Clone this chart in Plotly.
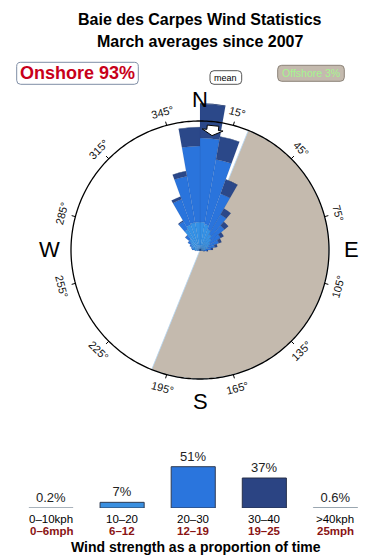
import numpy as np
import plotly.graph_objects as go

W, H = 390, 560
FONT = "Liberation Sans, Arial, Helvetica, sans-serif"

# ---------------- data ----------------
title_line1 = "Baie des Carpes Wind Statistics"
title_line2 = "March averages since 2007"

dir_bins = list(range(5, 360, 10))  # 36 direction bins (deg, centre)

# stacked rose segments per speed class (radial units, ring = 100)
rose_0_10 = [1.2, 0.8, 0.5, 0.3, 0.3, 0.2, 0.2, 0.2, 0.2, 0.1, 0.1, 0.0,
             0.0, 0.0, 0.0, 0.0, 0.0, 0.0, 0.0, 0.0, 0.0, 0.0, 0.0, 0.0,
             0.1, 0.1, 0.2, 0.2, 0.2, 0.2, 0.2, 0.3, 0.4, 0.5, 0.6, 1.0]
rose_10_20 = [20.5, 19.4, 16.6, 13.7, 11.3, 9.1, 7.6, 6.0, 4.5, 3.0, 1.8, 1.0,
              0.6, 0.4, 0.3, 0.3, 0.3, 0.3, 0.3, 0.3, 0.4, 0.5, 0.6, 0.8,
              1.0, 2.0, 3.4, 5.3, 5.8, 6.8, 8.3, 10.6, 18.2, 20.4, 21.1, 20.7]
rose_20_30 = [65.1, 51.1, 29.4, 17.8, 13.2, 9.3, 7.7, 5.4, 3.8, 2.3, 1.2, 0.5,
              0.2, 0.0, 0.0, 0.0, 0.0, 0.0, 0.0, 0.0, 0.0, 0.0, 0.0, 0.0,
              0.2, 0.3, 0.4, 0.7, 1.0, 1.5, 2.3, 3.9, 7.0, 21.0, 36.4, 58.9]
rose_30_40 = [26.4, 17.8, 11.6, 5.4, 3.9, 2.7, 2.3, 2.1, 1.6, 0.8, 0.4, 0.1,
              0.0, 0.0, 0.0, 0.0, 0.0, 0.0, 0.0, 0.0, 0.0, 0.0, 0.0, 0.0,
              0.0, 0.0, 0.0, 0.0, 0.0, 0.0, 0.1, 0.3, 0.8, 2.3, 3.9, 14.5]
rose_40_plus = [0.5, 0.3, 0.2, 0.0, 0.0, 0.0, 0.0, 0.0, 0.0, 0.0, 0.0, 0.0,
                0.0, 0.0, 0.0, 0.0, 0.0, 0.0, 0.0, 0.0, 0.0, 0.0, 0.0, 0.0,
                0.0, 0.0, 0.0, 0.0, 0.0, 0.0, 0.0, 0.0, 0.0, 0.0, 0.1, 0.3]

offshore_from = 22      # deg
offshore_to = 202       # deg
mean_dir = 6            # deg
ring_value = 100

onshore_pct = 93
offshore_pct = 3

deg_ticks = [15, 45, 75, 105, 135, 165, 195, 225, 255, 285, 315, 345]
compass_names = ["N", "E", "S", "W"]
compass_angles = [0, 90, 180, 270]

speed_kph = ["0–10kph", "10–20", "20–30", "30–40", ">40kph"]
speed_mph = ["0–6mph", "6–12", "12–19", "19–25", "25mph"]
speed_share = [0.2, 7, 51, 37, 0.6]
share_labels = ["0.2%", "7%", "51%", "37%", "0.6%"]

# ---------------- styling / geometry ----------------
CX, CY = 200, 250          # rose centre (px)
RING_PX = 129              # ring radius (px)
POLAR_PX = 150             # polar domain radius (px)
U = ring_value / RING_PX   # radial units per px

rose_colors = ["#5cc6f2", "#3592e6", "#2a74dc", "#2b4889", "#223a70"]
bar_fill = ["#c9d0d8", "#3a8fe0", "#2a75dd", "#2b4483", "#c9d0d8"]
bar_edge = ["#9aa6b0", "#2e3a52", "#2e3a52", "#27304a", "#9aa6b0"]


def px_to_paper(x, y):
    return x / W, 1 - y / H


def polar_px(theta, r_px):
    t = np.radians(theta)
    return CX + r_px * np.sin(t), CY - r_px * np.cos(t)


fig = go.Figure()

# offshore half-disc
fig.add_trace(go.Barpolar(
    r=[ring_value], theta=[(offshore_from + offshore_to) / 2],
    width=[offshore_to - offshore_from], base=[0],
    marker=dict(color="#c4baae", line=dict(color="#b4d6f2", width=0.8)),
    hoverinfo="skip", showlegend=False, subplot="polar"))

# ring outline
ring_theta = np.linspace(0, 360, 361)
fig.add_trace(go.Scatterpolar(
    r=[ring_value] * len(ring_theta), theta=ring_theta, mode="lines",
    line=dict(color="black", width=1.3), hoverinfo="skip",
    showlegend=False, subplot="polar"))

# tick marks
tr, tt = [], []
for a in deg_ticks:
    tr += [ring_value, ring_value * 1.03, None]
    tt += [a, a, None]
fig.add_trace(go.Scatterpolar(
    r=tr, theta=tt, mode="lines", line=dict(color="black", width=1),
    hoverinfo="skip", showlegend=False, subplot="polar"))

# stacked rose
classes = [rose_0_10, rose_10_20, rose_20_30, rose_30_40, rose_40_plus]
base = np.zeros(len(dir_bins))
for vals, col in zip(classes, rose_colors):
    vals = np.array(vals, dtype=float)
    fig.add_trace(go.Barpolar(
        r=vals, theta=dir_bins, width=[10] * len(dir_bins), base=base.copy(),
        marker=dict(color=col, line=dict(color="rgba(20,50,110,0.18)", width=0.5)),
        hoverinfo="skip", showlegend=False, subplot="polar"))
    base = base + vals

# mean-direction arrow (shape in local px frame: u across, v along radius)
arrow_local = [(-5.8, 125), (5.8, 125), (5.8, 120.7), (10.5, 120.7), (0, 115),
               (-10.5, 120.7), (-5.8, 120.7), (-5.8, 125)]
phi = np.radians(mean_dir)
ar, at = [], []
for u, v in arrow_local:
    X = v * np.sin(phi) + u * np.cos(phi)
    Y = v * np.cos(phi) - u * np.sin(phi)
    ar.append(np.hypot(X, Y) * U)
    at.append(np.degrees(np.arctan2(X, Y)))
fig.add_trace(go.Scatterpolar(
    r=ar, theta=at, mode="lines", fill="toself", fillcolor="white",
    line=dict(color="black", width=1), hoverinfo="skip",
    showlegend=False, subplot="polar"))

# bottom speed-share bars
fig.add_trace(go.Bar(
    x=list(range(len(speed_share))), y=speed_share, width=0.62,
    marker=dict(color=bar_fill, line=dict(color=bar_edge, width=1)),
    text=share_labels, textposition="outside", cliponaxis=False,
    textfont=dict(family=FONT, size=13, color="#222"),
    hoverinfo="skip", showlegend=False, xaxis="x", yaxis="y"))

annotations = []
shapes = []


def text_px(x, y, txt, size, color="black", bold=False, angle=0):
    px, py = px_to_paper(x, y)
    annotations.append(dict(
        x=px, y=py, xref="paper", yref="paper", showarrow=False,
        text=("<b>%s</b>" % txt) if bold else txt, textangle=angle,
        font=dict(family=FONT, size=size, color=color),
        xanchor="center", yanchor="middle"))


def rounded_box(x0, y0, x1, y1, rad, fill, edge, width=1):
    rx, ry = rad / W, rad / H
    a0, b1 = px_to_paper(x0, y0)
    a1, b0 = px_to_paper(x1, y1)
    path = (f"M {a0+rx},{b1} L {a1-rx},{b1} Q {a1},{b1} {a1},{b1-ry} "
            f"L {a1},{b0+ry} Q {a1},{b0} {a1-rx},{b0} L {a0+rx},{b0} "
            f"Q {a0},{b0} {a0},{b0+ry} L {a0},{b1-ry} Q {a0},{b1} {a0+rx},{b1} Z")
    shapes.append(dict(type="path", path=path, xref="paper", yref="paper",
                       fillcolor=fill, line=dict(color=edge, width=width),
                       layer="above"))


# titles
text_px(200, 20, title_line1, 16, bold=True)
text_px(200, 42, title_line2, 16, bold=True)

# info boxes
rounded_box(16.7, 62.3, 138.3, 84.3, 4, "white", "#7f8ea6")
text_px(77.5, 73.5, "Onshore %d%%" % onshore_pct, 18, color="#c8001a", bold=True)
rounded_box(210, 70.7, 241.7, 84.3, 4, "white", "#555555")
text_px(225.9, 77.6, "mean", 9)
rounded_box(277.7, 65.3, 344.3, 81.3, 4, "#c4baae", "#8c8379")
text_px(311, 73.4, "Offshore %d%%" % offshore_pct, 10.5, color="#a6f58e")

# compass letters
for name, a in zip(compass_names, compass_angles):
    x, y = polar_px(a, 151)
    text_px(x, y, name, 22)

# degree labels, rotated along the ring
for a in deg_ticks:
    x, y = polar_px(a, 143)
    if a <= 90:
        rot = a
    elif a >= 270:
        rot = a - 360
    else:
        rot = a - 180
    text_px(x, y, "%d°" % a, 11, color="#111", angle=rot)

# speed class labels under the bars
for i, (k, m) in enumerate(zip(speed_kph, speed_mph)):
    annotations.append(dict(x=i, y=1 - 518.5 / H, xref="x", yref="paper",
                            showarrow=False, text=k,
                            font=dict(family=FONT, size=11.5, color="black"),
                            xanchor="center", yanchor="middle"))
    annotations.append(dict(x=i, y=1 - 530.5 / H, xref="x", yref="paper",
                            showarrow=False, text="<b>%s</b>" % m,
                            font=dict(family=FONT, size=11.5, color="#8a1414"),
                            xanchor="center", yanchor="middle"))
text_px(196, 546.5, "Wind strength as a proportion of time", 14, bold=True)

fig.update_layout(
    width=W, height=H, margin=dict(l=0, r=0, t=0, b=0),
    paper_bgcolor="white", plot_bgcolor="rgba(0,0,0,0)",
    showlegend=False,
    polar=dict(
        domain=dict(x=[(CX - POLAR_PX) / W, (CX + POLAR_PX) / W],
                    y=[1 - (CY + POLAR_PX) / H, 1 - (CY - POLAR_PX) / H]),
        bgcolor="rgba(0,0,0,0)", barmode="overlay",
        radialaxis=dict(visible=False, range=[0, POLAR_PX * U]),
        angularaxis=dict(rotation=90, direction="clockwise", showline=False,
                         showgrid=False, ticks="", showticklabels=False),
    ),
    xaxis=dict(domain=[15.45 / W, 371 / W], range=[-0.5, 4.5], visible=False,
               fixedrange=True),
    yaxis=dict(domain=[52 / H, 100.6 / H], range=[0, 60], visible=False,
               fixedrange=True),
    annotations=annotations, shapes=shapes,
)

fig.write_html("out.html")
